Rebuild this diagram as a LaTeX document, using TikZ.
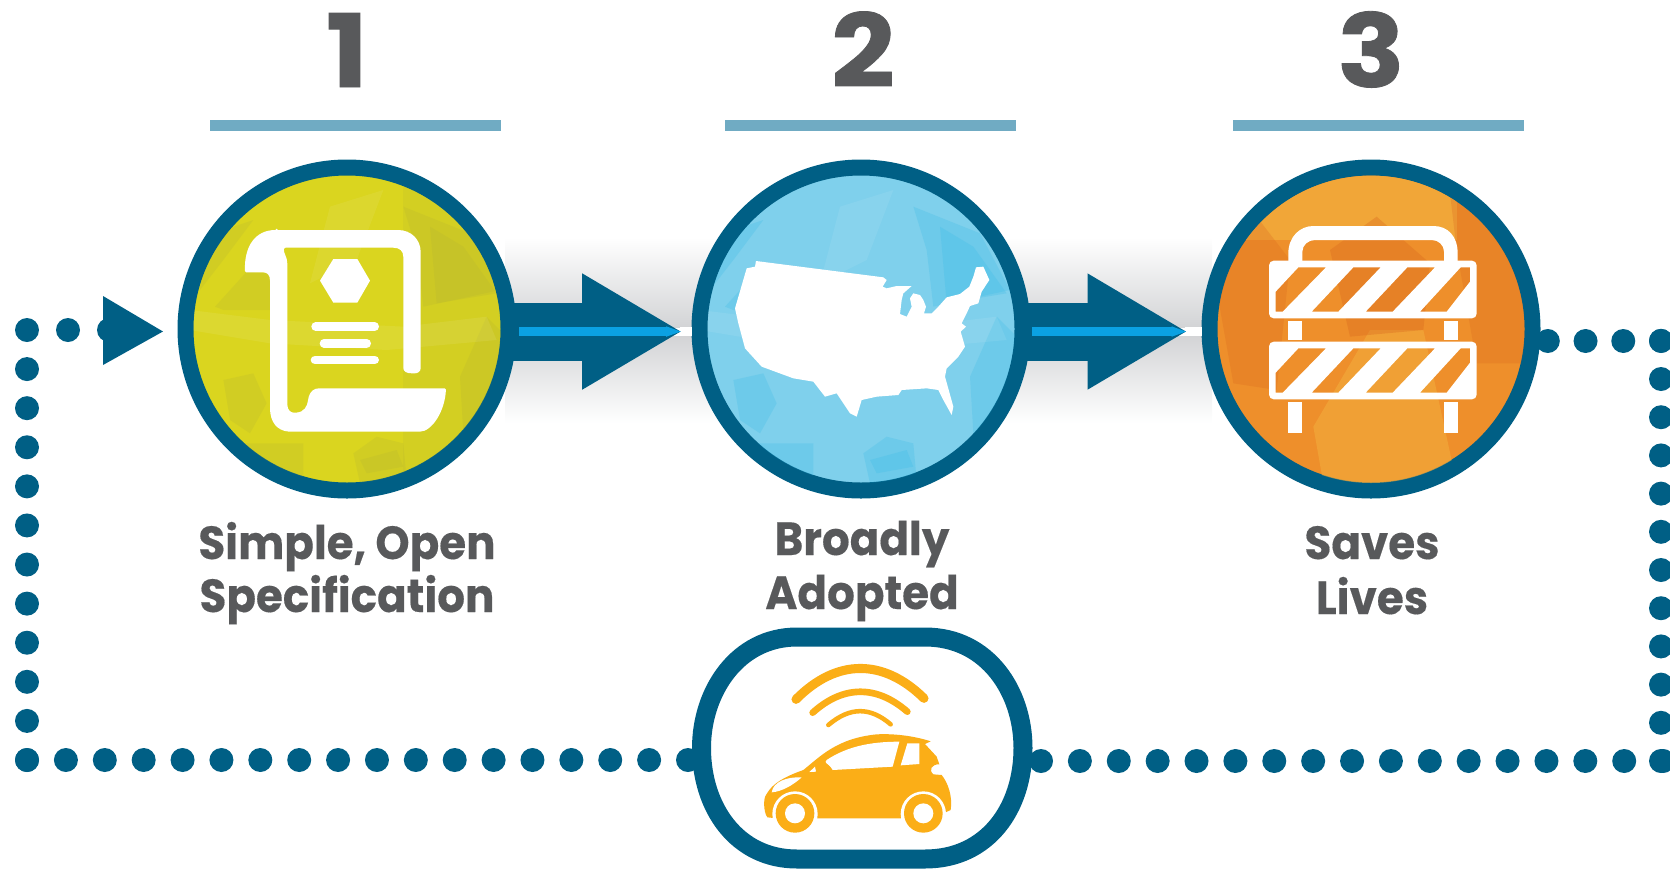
\documentclass[tikz,border=0pt]{standalone}
\usepackage{fontspec}
\setmainfont{Poppins}[FakeStretch=0.94,FakeBold=0.3]
\newfontfamily\numfont{Poppins}[FakeStretch=1.1,FakeBold=0.8]
\usetikzlibrary{arrows.meta}
\definecolor{navy}{HTML}{005F85}
\definecolor{strip}{HTML}{0BA1E2}
\definecolor{barblue}{HTML}{70ABC3}
\definecolor{ink}{HTML}{58595B}
\definecolor{band}{HTML}{D3D4D6}
\definecolor{car}{HTML}{FBAE17}
\definecolor{lime}{HTML}{DAD51F}
\definecolor{sky}{HTML}{7FD0EC}
\definecolor{amber}{HTML}{EE8F2B}
\definecolor{amberlight}{HTML}{F2AC3C}
\definecolor{amberdark}{HTML}{D9681F}
\definecolor{limedark}{HTML}{A8A93A}
\definecolor{skydark}{HTML}{2FB8E6}
\newcommand{\photoblobs}[2]{%
  \fill[#1,opacity=#2] (135,470)--(230,365)--(300,370)--(300,480)--(160,480)--cycle;
  \fill[#1,opacity=#2] (700,170)--(900,250)--(990,420)--(760,470)--(740,300)--cycle;
  \fill[#1,opacity=#2] (780,230)--(880,290)--(980,430)--(800,460)--cycle;
  \fill[#1,opacity=#2] (870,680)--(950,500)--(1010,560)--(960,780)--(880,850)--cycle;
  \fill[#1,opacity=#2] (160,690)--(250,670)--(290,760)--(240,850)--(180,810)--cycle;
  \fill[#1,opacity=#2] (550,910)--(620,860)--(700,880)--(710,990)--(570,1000)--cycle;
  \fill[#1,opacity=#2] (570,930)--(680,900)--(700,950)--(590,970)--cycle;
  \fill[#1,opacity=#2] (200,880)--(400,880)--(400,1000)--(300,980)--cycle;
  \fill[#1,opacity=#2] (100,260)--(250,210)--(160,330)--(90,420)--cycle;
  \fill[white,opacity=.08] (60,480)--(300,510)--(700,530)--(950,500)--(980,570)--(650,600)--(300,580)--(60,540)--cycle;
  \fill[white,opacity=.07] (480,170)--(640,120)--(560,330)--(420,400)--cycle;
}
\tikzset{
  x=0.75pt,y=-0.75pt,
  ring/.style={circle,draw=navy,line width=12pt,minimum size=242.25pt,inner sep=0pt},
  rule/.style={fill=barblue},
  numeral/.style={anchor=base,text=ink,font=\numfont\bfseries\fontsize{76}{76}\selectfont},
  label/.style={anchor=base,text=ink,font=\bfseries\fontsize{34.8}{34.8}\selectfont},
  shaft/.style={draw=navy,line width=43.5pt,-{Triangle[length=75pt,width=81.5pt,fill=navy]}},
  flash/.style={draw=strip,line width=6.75pt,-{Triangle[length=12pt,width=6.75pt,fill=strip]}},
  dots/.style={draw=navy,line width=18pt,line cap=round,dash pattern=on 0pt off #1},
  zoomview/.style={x=0.25pt,y=-0.25pt},
  wave/.style={draw=car,line cap=round},
}
\begin{document}
\begin{tikzpicture}
\useasboundingbox (0,0) rectangle (1670,868);
\clip (0,0) rectangle (1670,868);
% grey band
\fill[top color=white,bottom color=band] (505,237) rectangle (1212,327);
\fill[top color=band,bottom color=white] (505,336) rectangle (1212,423);
% dotted loop
\coordinate (loopa) at (688,760);
\coordinate (loopb) at (27,760);
\coordinate (loopc) at (27,330);
\coordinate (loopd) at (110,330);
\coordinate (loope) at (1041,761);
\coordinate (loopf) at (1664,761);
\coordinate (loopg) at (1661,761);
\coordinate (looph) at (1661,340);
\coordinate (loopi) at (1547,341);
\coordinate (loopj) at (1661,341);
\draw[dots=29.16pt] (loopa) -- (loopb);
\draw[dots=29.32pt] (loopb) -- (loopc);
\draw[dots=30.75pt] (loopc) -- (loopd);
\draw[dots=29.16pt] (loope) -- (loopf);
\draw[dots=28.65pt] (loopg) -- (looph);
\draw[dots=28.3pt] (loopj) -- (loopi);
% feedback triangle
\fill[navy] (103,296) -- (163,331.5) -- (103,365) -- cycle;
% rules
\fill[rule] (210,120) rectangle (501,131);
\fill[rule] (725,120) rectangle (1016,131);
\fill[rule] (1233,120) rectangle (1524,131);
% numerals
\node[numeral] (n1) at (347,87) {1};
\node[numeral] (n2) at (863,87) {2};
\node[numeral] (n3) at (1371,87) {3};
% circles
\node[ring,fill=lime] (c1) at (347,329) {};
\node[ring,fill=sky] (c2) at (861,329) {};
\node[ring,fill=amber] (c3) at (1371,329) {};
% white gap strips
\fill[white] (680,327) rectangle (692,336);
\fill[white] (1185,327) rectangle (1202,336);
% arrows
\draw[shaft,shorten <=-8pt,shorten >=7pt] ([yshift=-1.9pt]c1.east) -- ([yshift=-1.9pt]c2.west);
\draw[flash,shorten <=2pt,shorten >=7pt] ([yshift=-1.9pt]c1.east) -- ([yshift=-1.9pt]c2.west);
\draw[shaft,shorten <=-8pt,shorten >=10.5pt] ([yshift=-1.9pt]c2.east) -- ([yshift=-1.9pt]c3.west);
\draw[flash,shorten <=1pt,shorten >=10.5pt] ([yshift=-1.9pt]c2.east) -- ([yshift=-1.9pt]c3.west);
% photo 1 and scroll
\begin{scope}[shift={(170,150)},zoomview]
  \clip (531,538) circle (461);
  \fill[limedark,opacity=.12] (700,60) rectangle (1020,1020);
  \photoblobs{limedark}{.16}
  \fill[white,rounded corners=1pt]
    (320,240) -- (680,240) .. controls (725,240) and (752,270) .. (752,310)
    -- (752,650) .. controls (752,664) and (744,670) .. (730,670)
    .. controls (708,670) and (700,664) .. (700,650) -- (700,325)
    .. controls (700,303) and (690,293) .. (665,293) -- (342,293)
    .. controls (340,310) and (352,320) .. (352,345) -- (352,760)
    .. controls (352,780) and (362,788) .. (376,788)
    .. controls (402,786) and (412,770) .. (415,745)
    .. controls (420,725) and (432,715) .. (450,715) -- (828,715)
    .. controls (825,785) and (785,845) .. (745,845) -- (360,845)
    .. controls (320,842) and (300,815) .. (300,770) -- (300,395)
    .. controls (300,375) and (292,367) .. (275,367) -- (225,367)
    .. controls (222,290) and (255,240) .. (320,240) -- cycle;
  \fill[white] (450,392)--(490,327)--(562,327)--(600,392)--(562,458)--(490,458)--cycle;
  \draw[white,line width=6.5pt,line cap=round] (437,530)--(614,530);
  \draw[white,line width=6.5pt,line cap=round] (462,580)--(590,580);
  \draw[white,line width=6.5pt,line cap=round] (435,630)--(614,630);
\end{scope}
% photo 2 and map
\begin{scope}[shift={(680,150)},zoomview]
  \clip (543,538) circle (461);
  \photoblobs{skydark}{.22}
  \fill[white] (228,333)--(610,382)--(620,390)--(608,410)--(620,415)--(650,408)--(695,408)
    --(670,430)--(665,450)--(660,492)--(680,500)--(695,470)--(690,445)--(700,430)--(720,435)
    --(730,450)--(738,470)--(732,490)--(755,490)--(775,470)--(800,442)--(840,432)--(868,410)
    --(880,380)--(888,352)--(910,350)--(928,390)--(905,425)--(895,460)--(870,468)--(860,490)
    --(845,520)--(858,530)--(842,545)--(855,590)--(835,620)--(800,655)--(795,680)--(820,770)
    --(815,795)--(790,750)--(775,720)--(740,715)--(665,720)--(655,735)--(590,740)--(545,750)
    --(530,800)--(510,790)--(470,730)--(435,740)--(400,695)--(340,685)--(245,650)--(195,595)
    --(175,520)--(165,475)--(200,355)--(225,350)--cycle;
\end{scope}
% photo 3 and barrier
\begin{scope}[shift={(1190,150)},zoomview]
  \clip (543,538) circle (461);
  \fill[amberlight,opacity=.8] (150,60) rectangle (800,270);
  \fill[amberlight,opacity=.6] (370,830)--(540,540)--(700,540)--(800,1000)--(400,1000)--cycle;
  \fill[amberdark,opacity=.28] (780,130)--(1000,330)--(1010,640)--(860,640)--(800,300)--cycle;
  \fill[amberdark,opacity=.28] (80,420)--(200,200)--(300,330)--(260,720)--(130,700)--cycle;
  \fill[amberdark,opacity=.35] (420,300)--(560,200)--(720,340)--(700,540)--(480,560)--cycle;
  % arch
  \fill[white] (295,335)--(295,310) .. controls (295,260) and (330,228) .. (370,228)
     -- (730,228) .. controls (775,228) and (803,260) .. (803,310) -- (803,335) -- (762,335)
     -- (762,305) .. controls (762,285) and (745,270) .. (725,270) -- (375,270)
     .. controls (355,270) and (337,285) .. (337,305) -- (337,335) -- cycle;
  \fill[white] (295,512) rectangle (337,570);
  \fill[white] (762,512) rectangle (803,570);
  \fill[white] (295,756) rectangle (337,848);
  \fill[white] (762,756) rectangle (803,848);
  \foreach \dy in {0,243}{
    \fill[white,even odd rule,rounded corners=3.5pt] (237,332+\dy) rectangle (860,505+\dy)
      [sharp corners]
      (257,425+\dy)--(325,352+\dy)--(408,352+\dy)--(278,485+\dy)--(257,485+\dy)--cycle
      (490,352+\dy)--(572,352+\dy)--(445,485+\dy)--(365,485+\dy)--cycle
      (652,352+\dy)--(735,352+\dy)--(608,485+\dy)--(527,485+\dy)--cycle
      (812,352+\dy)--(840,352+\dy)--(840,395+\dy)--(770,485+\dy)--(690,485+\dy)--cycle;
  }
\end{scope}
% labels
\node[label] (t1a) at (347,559) {Simple, Open};
\node[label] (t1b) at (347,612) {Specification};
\node[label] (t2a) at (862,555) {Broadly};
\node[label] (t2b) at (862,609) {Adopted};
\node[label] (t3a) at (1372,559) {Saves};
\node[label] (t3b) at (1372,614) {Lives};
% vehicle pill
\draw[navy,line width=14.25pt,fill=white] (797,637) -- (925,637)
  .. controls (988,637) and (1023,692) .. (1023,748)
  .. controls (1023,808) and (988,859) .. (925,859) -- (797,859)
  .. controls (737,859) and (701.5,808) .. (701.5,748)
  .. controls (701.5,692) and (737,637) .. (797,637) -- cycle;
\begin{scope}[shift={(680,620)},zoomview]
  \draw[wave,line width=6.8pt] (348,238) .. controls (470,115) and (610,115) .. (732,235);
  \draw[wave,line width=5pt] (398,278) .. controls (490,195) and (590,195) .. (682,275);
  \draw[wave,line width=3.4pt] (445,315) .. controls (510,260) and (570,260) .. (632,313);
  \fill[car] (262,592) .. controls (250,575) and (250,535) .. (258,525)
    .. controls (270,505) and (285,480) .. (370,450)
    .. controls (420,410) and (470,355) .. (590,343)
    .. controls (650,340) and (710,350) .. (752,364) -- (735,372) -- (770,410) -- (778,433)
    .. controls (755,432) and (745,450) .. (760,463) -- (785,465)
    .. controls (805,490) and (818,530) .. (812,570) -- (790,580) -- (665,595) -- (410,595) -- (290,595) -- cycle;
  \fill[white] (458,450) .. controls (445,432) and (430,428) .. (440,420)
    .. controls (500,380) and (570,365) .. (658,365) -- (638,440) -- cycle;
  \fill[car] (405,440) .. controls (420,420) and (445,425) .. (458,452) -- (405,456) -- cycle;
  \fill[white] (682,370) -- (718,370) -- (718,432) -- (662,436) -- cycle;
  \fill[white] (388,456) -- (405,440) -- (408,455) -- cycle;
  \fill[white] (275,517) .. controls (280,485) and (320,470) .. (365,472)
    .. controls (340,495) and (305,515) .. (275,517) -- cycle;
  \fill[white] (345,582) circle (68);
  \fill[white] (730,582) circle (68);
  \fill[car] (345,580) circle (58);
  \fill[car] (730,580) circle (58);
  \fill[white] (345,580) circle (30);
  \fill[white] (730,580) circle (30);
\end{scope}
\end{tikzpicture}
\end{document}
